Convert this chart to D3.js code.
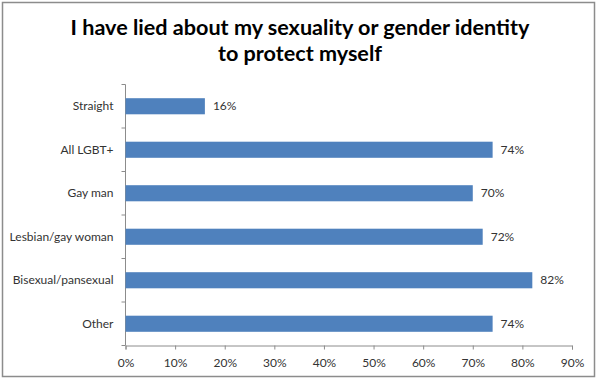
<!DOCTYPE html>
<html>
<head>
<meta charset="utf-8">
<script src="https://cdn.jsdelivr.net/npm/d3@7"></script>
<style>
  body { margin: 0; background: #fff; }
  text { font-family: Lato, "Open Sans", sans-serif; }
</style>
</head>
<body>
<div id="holder"></div>
<script>
const w = 600;
const h = 380;

// DATA
const categories = ["Straight", "All LGBT+", "Gay man", "Lesbian/gay woman", "Bisexual/pansexual", "Other"];
const values = [16, 74, 70, 72, 82, 74];
const xTicks = [0, 10, 20, 30, 40, 50, 60, 70, 80, 90];
const titleLines = ["I have lied about my sexuality or gender identity", "to protect myself"];

const plotLeft = 125.5, plotRight = 572, plotTop = 84.5, plotBottom = 345.5;

const svg = d3.select("#holder")
    .append("svg")
    .attr("width", w)
    .attr("height", h)

// BORDER
svg.append("rect")
    .attr("x", 2.5).attr("y", 2.5)
    .attr("width", 592).attr("height", 374)
    .attr("fill", "#fff")
    .attr("stroke", "#8c8c8c")
    .attr("stroke-width", 1.5)

// TITLE
svg.selectAll(".title")
    .data(titleLines)
    .enter()
    .append("text")
    .attr("class", "title")
    .attr("x", 300)
    .attr("y", (d, i) => 35 + i * 26)
    .attr("text-anchor", "middle")
    .attr("font-size", 21.6)
    .attr("font-weight", "bold")
    .attr("fill", "#000")
    .text(d => d)

// SCALES
let xScale = d3.scaleLinear()
    .domain([0, 90])
    .range([plotLeft, plotRight])

let yScale = d3.scaleBand()
    .domain(categories)
    .range([plotTop, plotBottom])
    .paddingInner(0.63)
    .paddingOuter(0.315)

// X AXIS
let xAxis = d3.axisBottom(xScale)
    .tickValues(xTicks)
    .tickSize(4)
    .tickFormat(d => d + "%")

let gx = svg.append("g")
    .attr("transform", "translate(0," + plotBottom + ")")
    .call(xAxis)
gx.selectAll("line, path").attr("stroke", "#8c8c8c")
gx.selectAll("text")
    .attr("dy", "1.2em")
    .attr("font-size", 12)
    .attr("font-family", "Lato, 'Open Sans', sans-serif")
    .attr("fill", "#333")

// Y AXIS with ticks between categories
let yEdges = d3.range(categories.length + 1).map(i => plotTop + i * (plotBottom - plotTop) / categories.length)
svg.append("line")
    .attr("x1", plotLeft).attr("x2", plotLeft)
    .attr("y1", plotTop).attr("y2", plotBottom)
    .attr("stroke", "#8c8c8c")
svg.selectAll(".ytick")
    .data(yEdges)
    .enter()
    .append("line")
    .attr("x1", plotLeft - 4).attr("x2", plotLeft)
    .attr("y1", d => d).attr("y2", d => d)
    .attr("stroke", "#8c8c8c")

// CATEGORY LABELS
svg.selectAll(".cat")
    .data(categories)
    .enter()
    .append("text")
    .attr("x", plotLeft - 12)
    .attr("y", d => yScale(d) + yScale.bandwidth() / 2)
    .attr("dy", "0.35em")
    .attr("text-anchor", "end")
    .attr("font-size", 12)
    .attr("fill", "#333")
    .text(d => d)

// BARS
svg.selectAll(".bar")
    .data(values)
    .enter()
    .append("rect")
    .attr("x", xScale(0))
    .attr("y", (d, i) => yScale(categories[i]))
    .attr("width", d => xScale(d) - xScale(0))
    .attr("height", yScale.bandwidth())
    .attr("fill", "#4f81bd")

// VALUE LABELS
svg.selectAll(".val")
    .data(values)
    .enter()
    .append("text")
    .attr("x", d => xScale(d) + 8)
    .attr("y", (d, i) => yScale(categories[i]) + yScale.bandwidth() / 2)
    .attr("dy", "0.35em")
    .attr("font-size", 12)
    .attr("fill", "#333")
    .text(d => d + "%")
</script>
</body>
</html>
